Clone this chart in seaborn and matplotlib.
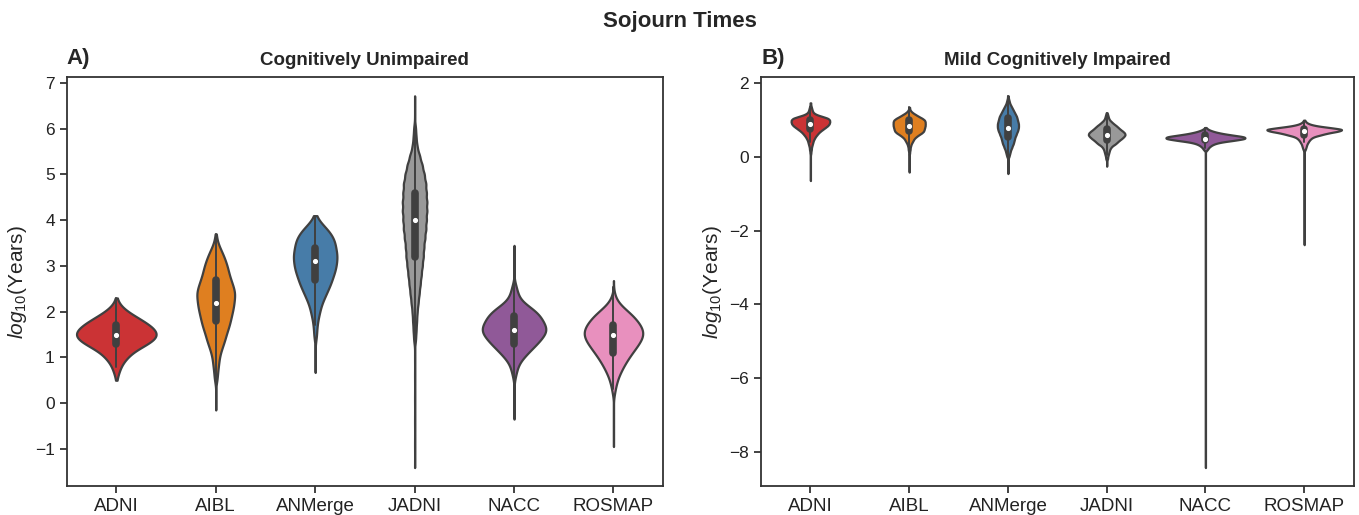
import numpy as np
import pandas as pd
import matplotlib
matplotlib.use("Agg")
import matplotlib.pyplot as plt
import seaborn as sns

# ---------------- data ----------------
cohorts = ["ADNI", "AIBL", "ANMerge", "JADNI", "NACC", "ROSMAP"]
colors = ["#e41a1c", "#ff7f00", "#377eb8", "#999999", "#984ea3", "#f781bf"]

# body: value grid + relative frequency (units of 10 observations); tail: single observations
# Panel A: Cognitively Unimpaired (log10 years)
cu_adni_vals = [0.5, 0.6, 0.7, 0.8, 0.9, 1.0, 1.1, 1.2, 1.3, 1.4, 1.5, 1.6, 1.7, 1.8, 1.9, 2.0, 2.1, 2.2, 2.3]
cu_adni_counts = [1, 3, 6, 9, 14, 22, 30, 45, 62, 76, 81, 76, 66, 52, 37, 22, 11, 4, 1]
cu_adni_tail = []

cu_aibl_vals = [0.5, 0.6, 0.7, 0.8, 0.9, 1.0, 1.1, 1.2, 1.3, 1.4, 1.5, 1.6, 1.7, 1.8, 1.9, 2.0, 2.1,
                2.2, 2.3, 2.4, 2.5, 2.6, 2.7, 2.8, 2.9, 3.0, 3.1, 3.2, 3.3, 3.4, 3.5, 3.6, 3.7]
cu_aibl_counts = [3, 3, 4, 5, 6, 7, 9, 12, 15, 18, 20, 23, 26, 28, 30, 32, 34,
                  35, 36, 37, 35, 32, 29, 26, 24, 22, 19, 16, 12, 8, 4, 2, 1]
cu_aibl_tail = [-0.15, 0.0, 0.2, 0.4]

cu_anmerge_vals = [1.4, 1.5, 1.6, 1.7, 1.8, 1.9, 2.0, 2.1, 2.2, 2.3, 2.4, 2.5, 2.6, 2.7, 2.8, 2.9,
                   3.0, 3.1, 3.2, 3.3, 3.4, 3.5, 3.6, 3.7, 3.8, 3.9, 4.0, 4.1]
cu_anmerge_counts = [2, 3, 3, 4, 5, 7, 9, 11, 14, 18, 22, 26, 30, 33, 36, 39,
                     41, 42, 43, 42, 40, 39, 36, 31, 24, 15, 7, 2]
cu_anmerge_tail = [0.67, 0.85, 1.0, 1.15, 1.3]

cu_jadni_vals = [1.4, 1.6, 1.8, 2.0, 2.2, 2.4, 2.6, 2.8, 3.0, 3.2, 3.4, 3.6, 3.8, 4.0, 4.2, 4.4,
                 4.6, 4.8, 5.0, 5.2, 5.4, 5.6, 5.8, 6.0]
cu_jadni_counts = [2, 3, 4, 5, 7, 9, 11, 13, 15, 17, 18, 20, 22, 23, 24, 24,
                   23, 22, 19, 15, 10, 5, 3, 2]
cu_jadni_tail = [-1.41, -0.9, -0.4, 0.1, 0.6, 1.0, 6.25, 6.5, 6.72]

cu_nacc_vals = [0.5, 0.6, 0.7, 0.8, 0.9, 1.0, 1.1, 1.2, 1.3, 1.4, 1.5, 1.6, 1.7, 1.8, 1.9, 2.0,
                2.1, 2.2, 2.3, 2.4, 2.5, 2.6]
cu_nacc_counts = [1, 3, 5, 7, 11, 18, 26, 34, 43, 50, 57, 61, 58, 53, 49, 41,
                  30, 17, 10, 7, 5, 3]
cu_nacc_tail = [-0.35, 0.0, 0.3, 2.8, 3.1, 3.45]

cu_rosmap_vals = [0.2, 0.3, 0.4, 0.5, 0.6, 0.7, 0.8, 0.9, 1.0, 1.1, 1.2, 1.3, 1.4, 1.5, 1.6, 1.7,
                  1.8, 1.9, 2.0, 2.1, 2.2, 2.3, 2.4]
cu_rosmap_counts = [2, 3, 5, 7, 10, 14, 18, 23, 28, 34, 40, 46, 51, 54, 53, 49,
                    43, 36, 27, 17, 9, 4, 2]
cu_rosmap_tail = [-0.95, -0.6, -0.3, 0.0, 2.55, 2.68]

# Panel B: Mild Cognitively Impaired
mci_adni_vals = [0.10, 0.15, 0.20, 0.25, 0.30, 0.35, 0.40, 0.45, 0.50, 0.55, 0.60, 0.65, 0.70, 0.75,
                 0.80, 0.85, 0.90, 0.95, 1.00, 1.05, 1.10, 1.15, 1.20, 1.25, 1.30, 1.35, 1.40, 1.47]
mci_adni_counts = [1, 1, 2, 2, 3, 4, 5, 6, 8, 10, 13, 16, 20, 25,
                   30, 35, 38, 39, 39, 36, 24, 12, 6, 4, 3, 2, 1, 1]
mci_adni_tail = [-0.64, -0.4, -0.2, 0.0]

mci_aibl_vals = [0.10, 0.15, 0.20, 0.25, 0.30, 0.35, 0.40, 0.45, 0.50, 0.55, 0.60, 0.65, 0.70,
                 0.75, 0.80, 0.85, 0.90, 0.95, 1.00, 1.05, 1.10, 1.15, 1.20, 1.25, 1.30, 1.35]
mci_aibl_counts = [1, 1, 2, 2, 3, 4, 6, 8, 10, 14, 19, 25, 29,
                   30, 31, 32, 32, 32, 31, 26, 19, 13, 7, 3, 1, 1]
mci_aibl_tail = [-0.41, -0.2, 0.0]

mci_anmerge_vals = [0.00, 0.05, 0.10, 0.15, 0.20, 0.25, 0.30, 0.35, 0.40, 0.45, 0.50, 0.55, 0.60,
                    0.65, 0.70, 0.75, 0.80, 0.85, 0.90, 0.95, 1.00, 1.05, 1.10, 1.15, 1.20, 1.25,
                    1.30, 1.35, 1.40, 1.45, 1.50, 1.55, 1.60, 1.66]
mci_anmerge_counts = [2, 3, 4, 5, 6, 8, 9, 11, 12, 13, 14, 15, 17,
                      18, 20, 21, 22, 22, 22, 21, 20, 19, 18, 16, 14, 12,
                      10, 8, 6, 4, 3, 2, 1, 1]
mci_anmerge_tail = [-0.45, -0.25]

mci_jadni_vals = [-0.05, 0.00, 0.05, 0.10, 0.15, 0.20, 0.25, 0.30, 0.35, 0.40, 0.45, 0.50, 0.55,
                  0.60, 0.65, 0.70, 0.75, 0.80, 0.85, 0.90, 0.95, 1.00, 1.05, 1.10, 1.15, 1.20]
mci_jadni_counts = [2, 2, 3, 4, 5, 6, 8, 11, 17, 21, 25, 30, 34,
                    37, 36, 32, 27, 23, 19, 14, 10, 6, 4, 3, 2, 1]
mci_jadni_tail = [-0.25, -0.15]

mci_nacc_vals = [0.20, 0.25, 0.30, 0.35, 0.40, 0.45, 0.50, 0.55, 0.60, 0.65, 0.70, 0.75, 0.80]
mci_nacc_counts = [4, 6, 10, 16, 28, 55, 80, 78, 50, 28, 14, 5, 1]
mci_nacc_tail = [-8.43, -6.0, -4.0, -2.0, -1.0, -0.5, 0.0, 0.1]

mci_rosmap_vals = [0.20, 0.25, 0.30, 0.35, 0.40, 0.45, 0.50, 0.55, 0.60, 0.65, 0.70, 0.75, 0.80,
                   0.85, 0.90, 0.95, 1.00]
mci_rosmap_counts = [2, 3, 4, 5, 7, 9, 12, 17, 30, 42, 62, 72, 45,
                     20, 8, 3, 1]
mci_rosmap_tail = [-2.38, -1.8, -1.2, -0.8, -0.4, 0.0, 0.1]


def build(vals_list, counts_list, tails_list):
    frames = []
    for name, v, c, t in zip(cohorts, vals_list, counts_list, tails_list):
        body = np.repeat(v, np.asarray(c) * 10)
        frames.append(pd.DataFrame({"cohort": name,
                                    "value": np.concatenate([body, np.asarray(t, float)])}))
    return pd.concat(frames, ignore_index=True)


df_cu = build([cu_adni_vals, cu_aibl_vals, cu_anmerge_vals, cu_jadni_vals, cu_nacc_vals, cu_rosmap_vals],
              [cu_adni_counts, cu_aibl_counts, cu_anmerge_counts, cu_jadni_counts, cu_nacc_counts, cu_rosmap_counts],
              [cu_adni_tail, cu_aibl_tail, cu_anmerge_tail, cu_jadni_tail, cu_nacc_tail, cu_rosmap_tail])
df_mci = build([mci_adni_vals, mci_aibl_vals, mci_anmerge_vals, mci_jadni_vals, mci_nacc_vals, mci_rosmap_vals],
               [mci_adni_counts, mci_aibl_counts, mci_anmerge_counts, mci_jadni_counts, mci_nacc_counts, mci_rosmap_counts],
               [mci_adni_tail, mci_aibl_tail, mci_anmerge_tail, mci_jadni_tail, mci_nacc_tail, mci_rosmap_tail])


def fixed_bw(target):
    # absolute KDE bandwidth (in data units) for every violin of a panel
    return lambda kde: target / np.std(kde.dataset)


# ---------------- style ----------------
sns.set_theme(style="ticks")
plt.rcParams["font.family"] = ["Liberation Sans", "DejaVu Sans"]
plt.rcParams["mathtext.fontset"] = "custom"
plt.rcParams["mathtext.rm"] = "Liberation Sans"
plt.rcParams["mathtext.it"] = "Liberation Sans:italic"
plt.rcParams["axes.edgecolor"] = "#333333"
plt.rcParams["axes.linewidth"] = 1.3

fig = plt.figure(figsize=(13.59, 5.15), dpi=100)
ax_a = fig.add_axes([0.049, 0.056, 0.439, 0.794])
ax_b = fig.add_axes([0.560, 0.056, 0.436, 0.794])

panels = [
    (ax_a, df_cu, 0.1, "A)", "Cognitively Unimpaired", [-1, 0, 1, 2, 3, 4, 5, 6, 7]),
    (ax_b, df_mci, 0.03, "B)", "Mild Cognitively Impaired", [-8, -6, -4, -2, 0, 2]),
]

for ax, df, bw, tag, title, yt in panels:
    sns.violinplot(
        data=df, x="cohort", y="value", hue="cohort",
        order=cohorts, hue_order=cohorts, palette=colors, legend=False,
        cut=0, inner="box", density_norm="area", common_norm=True,
        bw_method=fixed_bw(bw), gridsize=1200,
        linewidth=1.6, linecolor="#404040",
        inner_kws=dict(box_width=5.5, whis_width=1.4, marker="o", markersize=2.6),
        ax=ax,
    )
    ax.set_xlabel("")
    ax.set_ylabel(r"$log_{10}$(Years)", fontsize=15)
    ax.set_yticks(yt)
    ax.tick_params(axis="x", labelsize=13.5, length=5, width=1.2, colors="#222222")
    ax.tick_params(axis="y", labelsize=12.5, length=5, width=1.2, colors="#222222")
    ax.set_title(title, fontsize=13.5, fontweight="bold", pad=9)
    ax.text(0.0, 1.02, tag, transform=ax.transAxes, fontsize=16,
            fontweight="bold", ha="left", va="bottom")

fig.suptitle("Sojourn Times", fontsize=16, fontweight="bold", y=0.978)
fig.savefig("out.png", dpi=100)
